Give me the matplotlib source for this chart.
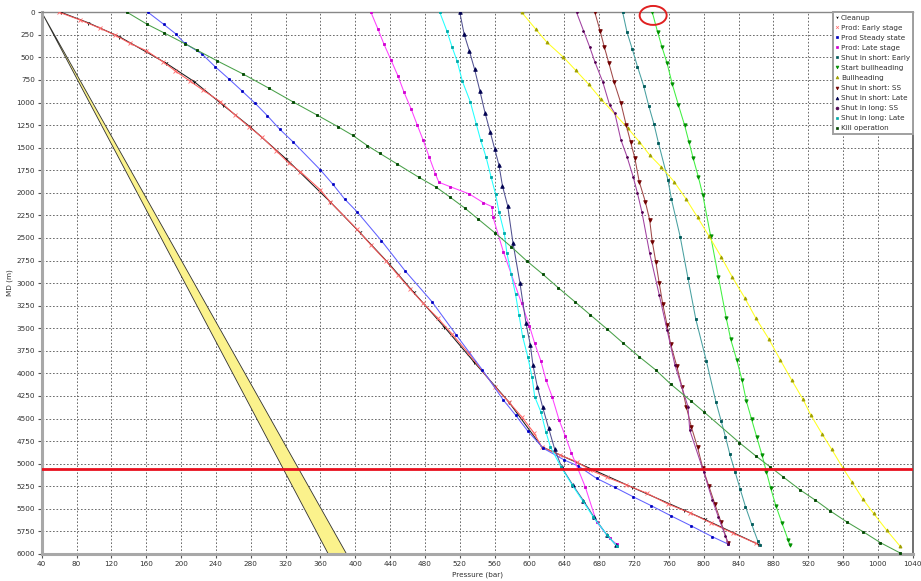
import matplotlib
matplotlib.use("Agg")
import matplotlib.pyplot as plt
from matplotlib.lines import Line2D
from matplotlib.patches import Ellipse, Polygon

# ---- pressure (bar) vs measured depth (m) profiles ----
cleanup_p = [62, 93, 129, 183, 215, 248, 279, 321, 371, 405, 439, 467, 502, 536, 576, 614, 718, 777, 801, 862]
cleanup_d = [0, 115, 270, 565, 768, 1027, 1267, 1628, 2098, 2437, 2788, 3102, 3483, 3870, 4313, 4812, 5262, 5513, 5616, 5890]

early_p = [60, 84, 107, 124, 141, 160, 179, 193, 210, 225, 245, 262, 278, 293, 309, 324, 337, 360, 371,
           402, 418, 435, 449, 463, 478, 495, 511, 530, 560, 576, 591, 605, 614, 635, 654, 670, 689, 711,
           735, 759, 784, 808, 834, 860]
early_d = [0, 85, 177, 251, 343, 425, 547, 647, 761, 861, 990, 1138, 1267, 1385, 1533, 1673, 1766, 1968, 2098,
           2403, 2578, 2751, 2910, 3065, 3224, 3390, 3563, 3777, 4147, 4313, 4480, 4657, 4812, 4904, 4978, 5070,
           5151, 5233, 5328, 5447, 5543, 5654, 5771, 5882]

steady_p = [162, 180, 194, 204, 224, 239, 255, 270, 285, 299, 313, 329, 360, 374, 388, 402, 430, 457, 488,
            516, 546, 570, 584, 598, 616, 640, 656, 677, 698, 719, 740, 763, 786, 810, 828]
steady_d = [0, 133, 240, 343, 462, 602, 739, 872, 1008, 1145, 1293, 1440, 1747, 1902, 2071, 2209, 2530, 2862,
            3205, 3575, 3962, 4295, 4461, 4638, 4830, 4959, 5026, 5162, 5262, 5366, 5466, 5580, 5690, 5809, 5890]

late_p = [418, 426, 433, 441, 449, 456, 464, 471, 478, 485, 492, 496, 509, 531, 547, 557, 558, 570, 591,
          600, 606, 613, 619, 626, 634, 641, 648, 664, 677, 692, 700]
late_d = [0, 185, 355, 528, 705, 886, 1068, 1245, 1418, 1606, 1791, 1883, 1932, 2013, 2109, 2153, 2264, 2652,
          3224, 3475, 3667, 3859, 4073, 4258, 4516, 4690, 4878, 5255, 5646, 5827, 5890]

sis_early_p = [707, 712, 718, 724, 731, 737, 743, 748, 759, 763, 773, 782, 791, 803, 814, 820, 825, 830, 836,
               842, 848, 855, 862, 865]
sis_early_d = [0, 222, 407, 602, 813, 1038, 1241, 1444, 1858, 2071, 2485, 2947, 3401, 3859, 4313, 4524, 4701,
               4893, 5089, 5284, 5476, 5668, 5853, 5901]

start_bh_p = [741, 747, 752, 758, 764, 771, 778, 783, 788, 794, 799, 808, 817, 826, 831, 838, 844, 849, 855,
              861, 867, 872, 877, 883, 890, 897, 899]
start_bh_d = [0, 215, 381, 565, 798, 1027, 1248, 1433, 1618, 1828, 2024, 2478, 2936, 3390, 3622, 3851, 4073,
              4306, 4508, 4708, 4904, 5089, 5273, 5469, 5660, 5845, 5901]

bullhead_p = [591, 607, 620, 639, 653, 668, 682, 713, 726, 738, 751, 766, 780, 793, 806, 820, 833, 847, 860,
              875, 888, 901, 914, 923, 936, 947, 960, 970, 983, 995, 1010, 1025]
bullhead_d = [0, 185, 332, 498, 642, 798, 960, 1285, 1433, 1581, 1710, 1876, 2071, 2271, 2478, 2707, 2936,
              3161, 3390, 3622, 3851, 4073, 4287, 4461, 4671, 4841, 5051, 5199, 5395, 5550, 5735, 5908]

sis_ss_p = [675, 681, 686, 691, 697, 705, 711, 716, 721, 726, 733, 738, 741, 745, 749, 753, 758, 762, 769,
            775, 780, 786, 793, 799, 806, 813, 820, 828]
sis_ss_d = [0, 203, 388, 558, 768, 1008, 1248, 1433, 1618, 1876, 2098, 2301, 2541, 2763, 3002, 3231, 3464,
            3674, 3915, 4147, 4369, 4598, 4819, 5050, 5250, 5450, 5650, 5880]

sis_late_p = [520, 525, 531, 537, 543, 549, 555, 560, 565, 569, 575, 581, 589, 596, 601, 604, 609, 615, 622,
              629, 637, 650, 662, 674, 689, 699]
sis_late_d = [0, 244, 429, 632, 868, 1115, 1329, 1511, 1695, 1924, 2146, 2552, 2995, 3445, 3685, 3907, 4147,
              4369, 4608, 4841, 5040, 5240, 5410, 5590, 5790, 5900]

sil_ss_p = [654, 662, 669, 675, 684, 692, 698, 705, 712, 719, 724, 729, 738, 749, 758, 767, 782, 784, 800,
            810, 817, 825, 828]
sil_ss_d = [0, 203, 381, 547, 768, 1027, 1119, 1415, 1599, 1821, 2005, 2209, 2670, 3131, 3519, 3907, 4369,
            4627, 5089, 5402, 5594, 5801, 5890]

sil_late_p = [497, 505, 511, 517, 523, 532, 539, 544, 550, 556, 561, 565, 571, 574, 579, 584, 588, 592, 598,
              603, 606, 613, 619, 624, 636, 649, 661, 673, 689, 700]
sil_late_d = [0, 203, 381, 543, 765, 990, 1241, 1418, 1599, 1828, 2013, 2209, 2441, 2663, 2899, 3124, 3353,
              3586, 3815, 4043, 4258, 4424, 4652, 4812, 5033, 5236, 5410, 5587, 5790, 5908]

kill_p = [138, 161, 180, 205, 218, 241, 271, 301, 328, 356, 380, 397, 414, 428, 448, 473, 493, 509, 526, 541,
          560, 579, 597, 615, 633, 652, 670, 689, 707, 726, 745, 762, 785, 800, 841, 860, 876, 891, 911, 928,
          945, 964, 983, 1003, 1025]
kill_d = [0, 133, 226, 351, 418, 536, 683, 842, 990, 1138, 1267, 1363, 1478, 1562, 1680, 1828, 1938, 2049,
          2171, 2290, 2441, 2597, 2755, 2899, 3051, 3205, 3353, 3508, 3660, 3815, 3962, 4117, 4302, 4424, 4767,
          4915, 5033, 5144, 5292, 5402, 5521, 5643, 5753, 5875, 5986]

# pressure window (pore / fracture gradient band)
band_depth = [0, 6000]
band_low_p = [40, 369]
band_high_p = [40, 390]

reference_depth = 5062

series = [
    ("Cleanup", cleanup_p, cleanup_d, "#1a1a1a", "1", "#000000", 3),
    ("Prod: Early stage", early_p, early_d, "#ff5a5a", "x", "#ff6868", 2.4),
    ("Prod Steady state", steady_p, steady_d, "#6060ff", "s", "#0000c0", 1.3),
    ("Prod: Late stage", late_p, late_d, "#ff40ff", "s", "#d000d0", 1.6),
    ("Shut in short: Early", sis_early_p, sis_early_d, "#48a0a0", "s", "#005a5a", 1.6),
    ("Start bullheading", start_bh_p, start_bh_d, "#40f040", "v", "#009000", 2.4),
    ("Bullheading", bullhead_p, bullhead_d, "#ffff20", "^", "#a0a000", 2.2),
    ("Shut in short: SS", sis_ss_p, sis_ss_d, "#a04848", "v", "#700000", 2.6),
    ("Shut in short: Late", sis_late_p, sis_late_d, "#505090", "^", "#000050", 2.6),
    ("Shut in long: SS", sil_ss_p, sil_ss_d, "#a040a0", "o", "#500050", 1.3),
    ("Shut in long: Late", sil_late_p, sil_late_d, "#20ffff", "s", "#00a8a8", 1.6),
    ("Kill operation", kill_p, kill_d, "#48a048", "s", "#004800", 1.6),
]

fig = plt.figure(figsize=(9.21, 5.81), dpi=100)
ax = fig.add_axes([0.0453, 0.0465, 0.9457, 0.9324])

# gradient band
band_poly = list(zip(band_low_p, band_depth)) + list(zip(band_high_p[::-1], band_depth[::-1]))
ax.add_patch(Polygon(band_poly, closed=True, facecolor="#fbf28c", edgecolor="#303030",
                     linewidth=0.6, zorder=2))

handles = []
for name, p, d, lc, mk, mc, ms in series:
    ax.plot(p, d, color=lc, linewidth=0.75, marker=mk, markersize=ms,
            markerfacecolor=mc, markeredgecolor=mc, markeredgewidth=0.6, zorder=3)
    handles.append(Line2D([], [], linestyle="none", marker=mk, markersize=2.0,
                          markerfacecolor=mc, markeredgecolor=mc, markeredgewidth=0.5, label=name))

ax.axhline(reference_depth, color="#e8101e", linewidth=2.0, zorder=4)

# highlighted start point
ax.add_patch(Ellipse((742, 35), width=31, height=210, fill=False, edgecolor="#e02020",
                     linewidth=1.4, clip_on=False, zorder=6))

ax.set_xlim(40, 1040)
ax.set_ylim(6000, 0)
ax.set_xticks(range(40, 1041, 40))
ax.set_yticks(range(0, 6001, 250))
ax.tick_params(axis="both", labelsize=5.2, colors="#555555", labelcolor="#303030",
               length=3, width=0.8, pad=2)
ax.grid(True, color="#555555", linestyle=(0, (2, 2.2)), linewidth=0.6)
ax.set_axisbelow(True)

for side in ("left", "bottom"):
    ax.spines[side].set_color("#a8a8a8")
    ax.spines[side].set_linewidth(2.2)
ax.spines["top"].set_color("#888888")
ax.spines["top"].set_linewidth(1.0)
ax.spines["right"].set_color("#707070")
ax.spines["right"].set_linewidth(1.4)

ax.set_xlabel("Pressure (bar)", fontsize=5.2, color="#303030", labelpad=3)
ax.set_ylabel("MD (m)", fontsize=5.2, color="#303030", labelpad=2)

leg = ax.legend(handles=handles, loc="upper right", fontsize=5.2, frameon=True, fancybox=False,
                borderaxespad=0.0, handlelength=0.4, handletextpad=0.4, labelspacing=0.55,
                borderpad=0.35, framealpha=1.0)
leg.get_frame().set_edgecolor("#a0a0a0")
leg.get_frame().set_linewidth(1.4)
for t in leg.get_texts():
    t.set_color("#303030")
leg.set_zorder(10)

fig.savefig("out.png", dpi=100)
